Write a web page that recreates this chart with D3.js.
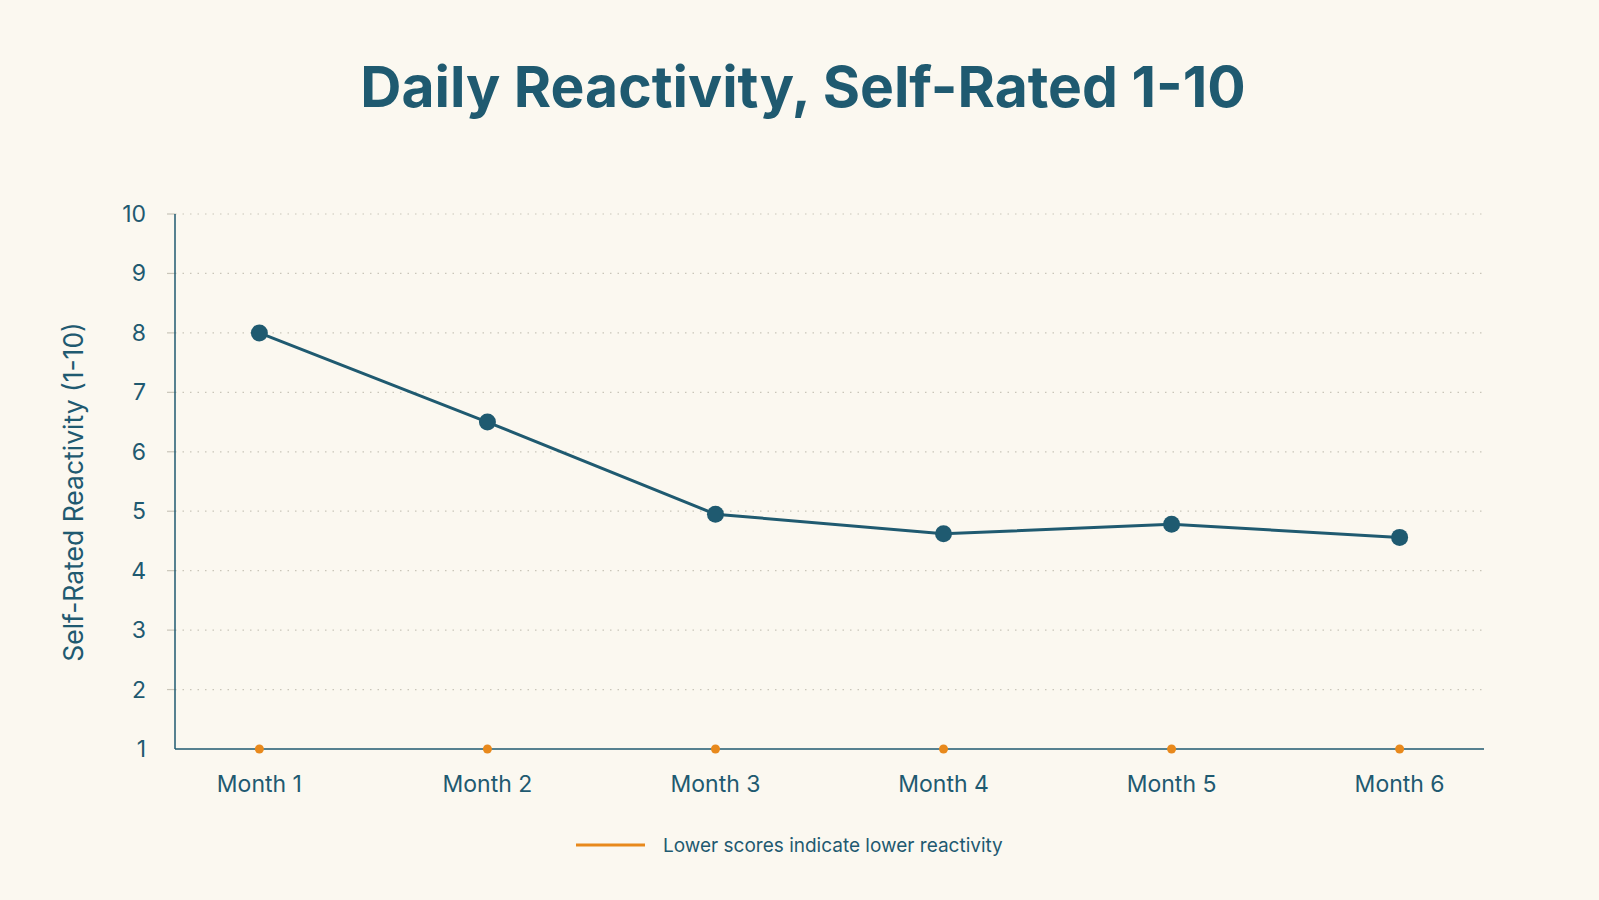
<!DOCTYPE html>
<html>
<head>
<meta charset="utf-8">
<script src="https://cdn.jsdelivr.net/npm/d3@7"></script>
<style>
  body { margin: 0; background: #fbf8f0; }
  svg { display: block; }
</style>
</head>
<body>
<div id="chart"></div>
<script>
// Data
const months = ["Month 1", "Month 2", "Month 3", "Month 4", "Month 5", "Month 6"];
const reactivity = [8.0, 6.5, 4.95, 4.62, 4.78, 4.56];
const yTicks = [1, 2, 3, 4, 5, 6, 7, 8, 9, 10];
const legendLabel = "Lower scores indicate lower reactivity";

const width = 1599;
const height = 900;
const teal = "#1f5a70";
const orange = "#e8891c";
const font = "Inter, 'Open Sans', sans-serif";

const svg = d3.select("#chart")
    .append("svg")
    .attr("width", width)
    .attr("height", height)
    .style("background", "#fbf8f0");

const plotLeft = 175, plotRight = 1484, plotTop = 214, plotBottom = 749;

const x = d3.scalePoint()
    .domain(months)
    .range([plotLeft, plotRight])
    .padding(0.37);

const y = d3.scaleLinear()
    .domain([1, 10])
    .range([plotBottom, plotTop]);

// title
svg.append("text")
    .attr("x", 803)
    .attr("y", 107)
    .attr("text-anchor", "middle")
    .attr("font-family", font)
    .attr("font-weight", 700)
    .attr("font-size", 57)
    .attr("fill", teal)
    .text("Daily Reactivity, Self-Rated 1-10");

// gridlines (dotted)
svg.append("g")
    .selectAll("line")
    .data(yTicks.filter(d => d > 1))
    .join("line")
    .attr("x1", plotLeft)
    .attr("x2", plotRight)
    .attr("y1", d => y(d))
    .attr("y2", d => y(d))
    .attr("stroke", "#c9c5b9")
    .attr("stroke-width", 1.2)
    .attr("stroke-dasharray", "1.5,6");

// small grey ticks on left
svg.append("g")
    .selectAll("line")
    .data(yTicks.filter(d => d > 1))
    .join("line")
    .attr("x1", plotLeft - 8)
    .attr("x2", plotLeft)
    .attr("y1", d => y(d))
    .attr("y2", d => y(d))
    .attr("stroke", "#c9c5b9")
    .attr("stroke-width", 1.2);

// y tick labels
svg.append("g")
    .selectAll("text")
    .data(yTicks)
    .join("text")
    .attr("x", plotLeft - 29)
    .attr("y", d => y(d))
    .attr("dy", "0.35em")
    .attr("text-anchor", "end")
    .attr("font-family", font)
    .attr("font-size", 23)
    .attr("fill", teal)
    .text(d => d);

// axes lines
svg.append("line")
    .attr("x1", plotLeft).attr("x2", plotLeft)
    .attr("y1", plotTop).attr("y2", plotBottom)
    .attr("stroke", teal).attr("stroke-width", 1.5);
svg.append("line")
    .attr("x1", plotLeft).attr("x2", plotRight)
    .attr("y1", plotBottom).attr("y2", plotBottom)
    .attr("stroke", teal).attr("stroke-width", 1.5);

// x labels
svg.append("g")
    .selectAll("text")
    .data(months)
    .join("text")
    .attr("x", d => x(d))
    .attr("y", 792)
    .attr("text-anchor", "middle")
    .attr("font-family", font)
    .attr("font-size", 23)
    .attr("fill", teal)
    .text(d => d);

// y axis title
svg.append("text")
    .attr("transform", "translate(83,492) rotate(-90)")
    .attr("text-anchor", "middle")
    .attr("font-family", font)
    .attr("font-size", 26.5)
    .attr("fill", teal)
    .text("Self-Rated Reactivity (1-10)");

// orange baseline dots
svg.append("g")
    .selectAll("circle")
    .data(months)
    .join("circle")
    .attr("cx", d => x(d))
    .attr("cy", y(1))
    .attr("r", 4.5)
    .attr("fill", orange);

// line
const line = d3.line()
    .x((d, i) => x(months[i]))
    .y(d => y(d));

svg.append("path")
    .datum(reactivity)
    .attr("d", line)
    .attr("fill", "none")
    .attr("stroke", teal)
    .attr("stroke-width", 3);

svg.append("g")
    .selectAll("circle")
    .data(reactivity)
    .join("circle")
    .attr("cx", (d, i) => x(months[i]))
    .attr("cy", d => y(d))
    .attr("r", 8.5)
    .attr("fill", teal);

// legend
svg.append("line")
    .attr("x1", 576).attr("x2", 645)
    .attr("y1", 845).attr("y2", 845)
    .attr("stroke", orange)
    .attr("stroke-width", 3);
svg.append("text")
    .attr("x", 663)
    .attr("y", 845)
    .attr("dy", "0.35em")
    .attr("font-family", font)
    .attr("font-size", 19)
    .attr("fill", teal)
    .text(legendLabel);
</script>
</body>
</html>
